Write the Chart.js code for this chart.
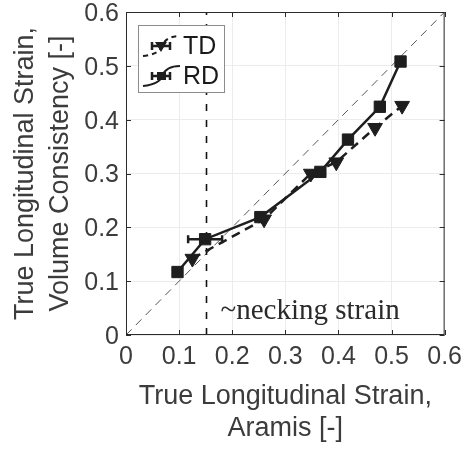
<!DOCTYPE html>
<html>
<head>
<meta charset="utf-8">
<script src="https://cdn.jsdelivr.net/npm/chart.js"></script>
<style>
  html, body { margin: 0; padding: 0; background: #fff; }
  #wrap { width: 472px; height: 449px; }
</style>
</head>
<body>
<div id="wrap"><canvas id="strainChart" width="472" height="449"></canvas></div>
<script>
// == Data ==
const tdX = [0.125, 0.26, 0.348, 0.396, 0.469, 0.52];
const tdY = [0.142, 0.215, 0.300, 0.321, 0.385, 0.426];

const rdX = [0.097, 0.149, 0.253, 0.366, 0.418, 0.478, 0.517];
const rdY = [0.117, 0.178, 0.219, 0.303, 0.363, 0.424, 0.508];
const rdXErr = [0, 0.032, 0, 0, 0, 0, 0];

const tickValues = [0, 0.1, 0.2, 0.3, 0.4, 0.5, 0.6];
const neckingStrain = 0.15;
const neckingLabel = "~necking strain";

const textColor = "#3c3c3c";
const lineColor = "#1e1e1e";

// == Helper Plugins ==
const decorPlugin = {
  id: "decor",
  beforeDatasetsDraw(chart) {
    const { ctx, chartArea: a, scales: { x, y } } = chart;
    ctx.save();
    ctx.beginPath();
    ctx.rect(a.left, a.top, a.right - a.left, a.bottom - a.top);
    ctx.clip();

    // 1:1 reference line
    ctx.strokeStyle = "#555";
    ctx.lineWidth = 1;
    ctx.setLineDash([8, 6]);
    ctx.beginPath();
    ctx.moveTo(x.getPixelForValue(0), y.getPixelForValue(0));
    ctx.lineTo(x.getPixelForValue(0.6), y.getPixelForValue(0.6));
    ctx.stroke();

    // necking line
    ctx.strokeStyle = "#111";
    ctx.lineWidth = 1.6;
    ctx.setLineDash([7, 9]);
    ctx.beginPath();
    const nx = Math.round(x.getPixelForValue(neckingStrain)) + 0.5;
    ctx.moveTo(nx, a.bottom);
    ctx.lineTo(nx, a.top);
    ctx.stroke();
    ctx.setLineDash([]);

    // label
    ctx.fillStyle = "#2a2a2a";
    ctx.font = "29px 'Liberation Serif', serif";
    ctx.textBaseline = "alphabetic";
    ctx.textAlign = "left";
    ctx.fillText(neckingLabel, x.getPixelForValue(0.178), y.getPixelForValue(0.03));

    // error bars
    ctx.strokeStyle = lineColor;
    ctx.lineWidth = 2.5;
    rdX.forEach((v, i) => {
      if (!rdXErr[i]) return;
      const py = y.getPixelForValue(rdY[i]);
      const x0 = x.getPixelForValue(v - rdXErr[i]);
      const x1 = x.getPixelForValue(v + rdXErr[i]);
      ctx.beginPath();
      ctx.moveTo(x0, py); ctx.lineTo(x1, py);
      ctx.moveTo(x0, py - 4); ctx.lineTo(x0, py + 4);
      ctx.moveTo(x1, py - 4); ctx.lineTo(x1, py + 4);
      ctx.stroke();
    });
    ctx.restore();
  },
  afterDraw(chart) {
    const { ctx, chartArea: a, scales: { x, y } } = chart;
    ctx.save();
    // box
    ctx.strokeStyle = "#2b2b2b";
    ctx.lineWidth = 1;
    ctx.strokeRect(a.left + 0.5, a.top + 0.5, a.right - a.left - 1, a.bottom - a.top - 1);
    // inward ticks
    ctx.beginPath();
    tickValues.forEach(v => {
      const px = Math.round(x.getPixelForValue(v)) + 0.5;
      ctx.moveTo(px, a.bottom); ctx.lineTo(px, a.bottom - 5);
      ctx.moveTo(px, a.top); ctx.lineTo(px, a.top + 5);
      const py = Math.round(y.getPixelForValue(v)) + 0.5;
      ctx.moveTo(a.left, py); ctx.lineTo(a.left + 5, py);
      ctx.moveTo(a.right, py); ctx.lineTo(a.right - 5, py);
    });
    ctx.stroke();

    // legend
    const bx = 138, by = 25, bw = 86, bh = 67;
    ctx.fillStyle = "#fff";
    ctx.fillRect(bx, by, bw, bh);
    ctx.strokeStyle = "#8c8c8c";
    ctx.strokeRect(bx + 0.5, by + 0.5, bw, bh);
    const rows = [
      { label: "TD", dash: [5, 4], style: "triangle", cy: 46 },
      { label: "RD", dash: [], style: "rect", cy: 76 }
    ];
    rows.forEach(r => {
      ctx.strokeStyle = lineColor;
      ctx.lineWidth = 2;
      ctx.setLineDash(r.dash);
      ctx.beginPath();
      ctx.moveTo(143, r.cy + 10);
      ctx.quadraticCurveTo(160, r.cy + 8, 162, r.cy);
      ctx.quadraticCurveTo(166, r.cy - 10, 180, r.cy - 10);
      ctx.stroke();
      ctx.setLineDash([]);
      ctx.lineWidth = 2.5;
      ctx.beginPath();
      ctx.moveTo(152, r.cy); ctx.lineTo(170, r.cy);
      ctx.moveTo(152, r.cy - 4); ctx.lineTo(152, r.cy + 4);
      ctx.moveTo(170, r.cy - 4); ctx.lineTo(170, r.cy + 4);
      ctx.stroke();
      ctx.fillStyle = lineColor;
      ctx.beginPath();
      if (r.style === "rect") {
        ctx.rect(157, r.cy - 4, 9, 8);
      } else {
        ctx.moveTo(155, r.cy - 4); ctx.lineTo(167, r.cy - 4); ctx.lineTo(161, r.cy + 6);
        ctx.closePath();
      }
      ctx.fill();
      ctx.fillStyle = "#1a1a1a";
      ctx.font = "25px 'Liberation Sans', Arial, sans-serif";
      ctx.textBaseline = "middle";
      ctx.fillText(r.label, 183, r.cy + 1);
    });
    ctx.restore();
  }
};

// == Chart ==
const ctx = document.getElementById("strainChart").getContext("2d");
new Chart(ctx, {
  type: "scatter",
  data: {
    datasets: [
      {
        label: "TD",
        data: tdX.map((v, i) => ({ x: v, y: tdY[i] })),
        showLine: true,
        borderColor: lineColor,
        borderWidth: 2.5,
        borderDash: [9, 6],
        pointStyle: "triangle",
        rotation: 180,
        pointRadius: 8.5,
        pointBackgroundColor: lineColor,
        pointBorderColor: lineColor,
        pointBorderWidth: 1
      },
      {
        label: "RD",
        data: rdX.map((v, i) => ({ x: v, y: rdY[i] })),
        showLine: true,
        borderColor: lineColor,
        borderWidth: 2.5,
        pointStyle: "rect",
        pointRadius: 8,
        pointBackgroundColor: lineColor,
        pointBorderColor: lineColor,
        pointBorderWidth: 1
      }
    ]
  },
  options: {
    responsive: false,
    animation: false,
    events: [],
    layout: { padding: { top: 12, right: 21, left: 0, bottom: 0 } },
    plugins: {
      legend: { display: false },
      tooltip: { enabled: false }
    },
    scales: {
      x: {
        type: "linear",
        min: 0,
        max: 0.6,
        afterFit: s => { s.height = 114; },
        afterBuildTicks: s => { s.ticks = tickValues.map(v => ({ value: v })); },
        border: { display: false },
        grid: { color: "#ececec", drawTicks: false },
        ticks: {
          padding: 10,
          color: textColor,
          font: { family: "'Liberation Sans', Arial, sans-serif", size: 25, lineHeight: 1 },
          callback: v => String(Math.round(v * 10) / 10)
        },
        title: {
          display: true,
          text: ["True Longitudinal Strain,", "Aramis [-]"],
          color: textColor,
          font: { family: "'Liberation Sans', Arial, sans-serif", size: 27, lineHeight: 1.17 },
          padding: { top: 0, bottom: 5 }
        }
      },
      y: {
        type: "linear",
        min: 0,
        max: 0.6,
        afterFit: s => { s.width = 126; },
        afterBuildTicks: s => { s.ticks = tickValues.map(v => ({ value: v })); },
        border: { display: false },
        grid: { color: "#ececec", drawTicks: false },
        ticks: {
          padding: 7,
          labelOffset: 2,
          color: textColor,
          font: { family: "'Liberation Sans', Arial, sans-serif", size: 25, lineHeight: 0.35 },
          callback: v => String(Math.round(v * 10) / 10)
        },
        title: {
          display: true,
          text: ["True Longitudinal Strain,", "Volume Consistency [-]"],
          color: textColor,
          font: { family: "'Liberation Sans', Arial, sans-serif", size: 27, lineHeight: 1.3 },
          padding: { top: 8, bottom: 0 }
        }
      }
    }
  },
  plugins: [decorPlugin]
});
</script>
</body>
</html>
